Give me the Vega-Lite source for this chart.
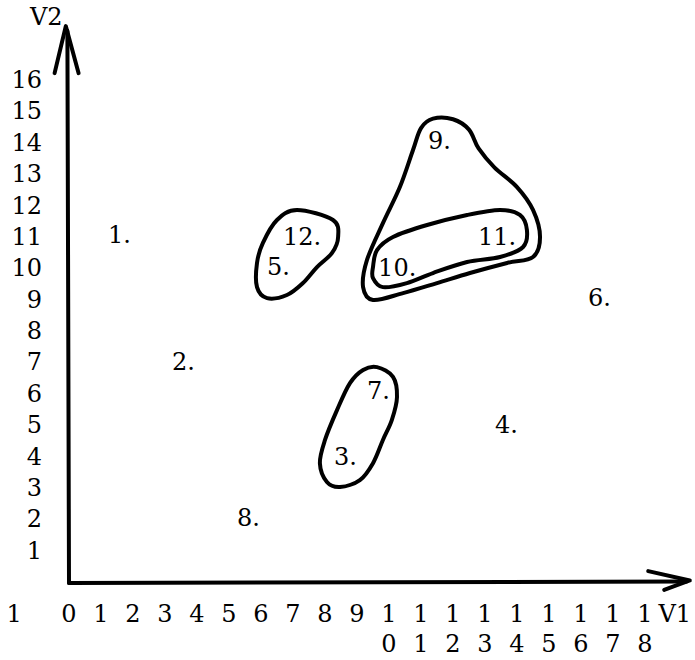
{
  "$schema": "https://vega.github.io/schema/vega-lite/v6.json",
  "width": 576,
  "height": 502,
  "autosize": "none",
  "padding": {"left": 69, "top": 81, "right": 50, "bottom": 77},
  "background": "white",
  "config": {
    "view": {"stroke": null},
    "text": {"font": "DejaVu Serif", "fontSize": 24, "color": "black"}
  },
  "datasets": {
    "shapes": [
      {"g": "A", "o": 1, "v1": 7.125, "v2": 11.89},
      {"g": "A", "o": 2, "v1": 8.25, "v2": 11.57},
      {"g": "A", "o": 3, "v1": 8.41, "v2": 11.03},
      {"g": "A", "o": 4, "v1": 8.22, "v2": 10.52},
      {"g": "A", "o": 5, "v1": 7.75, "v2": 10.07},
      {"g": "A", "o": 6, "v1": 7.31, "v2": 9.56},
      {"g": "A", "o": 7, "v1": 6.81, "v2": 9.18},
      {"g": "A", "o": 8, "v1": 6.19, "v2": 9.08},
      {"g": "A", "o": 9, "v1": 5.875, "v2": 9.43},
      {"g": "A", "o": 10, "v1": 5.875, "v2": 10.2},
      {"g": "A", "o": 11, "v1": 6.06, "v2": 10.84},
      {"g": "A", "o": 12, "v1": 6.5, "v2": 11.57},
      {"g": "B", "o": 1, "v1": 9.5, "v2": 10.07},
      {"g": "B", "o": 2, "v1": 9.625, "v2": 10.61},
      {"g": "B", "o": 3, "v1": 10.125, "v2": 11.03},
      {"g": "B", "o": 4, "v1": 11.19, "v2": 11.41},
      {"g": "B", "o": 5, "v1": 12.44, "v2": 11.73},
      {"g": "B", "o": 6, "v1": 13.47, "v2": 11.89},
      {"g": "B", "o": 7, "v1": 14.09, "v2": 11.73},
      {"g": "B", "o": 8, "v1": 14.31, "v2": 11.25},
      {"g": "B", "o": 9, "v1": 14.19, "v2": 10.71},
      {"g": "B", "o": 10, "v1": 13.47, "v2": 10.39},
      {"g": "B", "o": 11, "v1": 12.44, "v2": 10.23},
      {"g": "B", "o": 12, "v1": 11.375, "v2": 9.88},
      {"g": "B", "o": 13, "v1": 10.56, "v2": 9.56},
      {"g": "B", "o": 14, "v1": 9.81, "v2": 9.43},
      {"g": "B", "o": 15, "v1": 9.5, "v2": 9.72},
      {"g": "C", "o": 1, "v1": 11.375, "v2": 14.8},
      {"g": "C", "o": 2, "v1": 12.0, "v2": 14.78},
      {"g": "C", "o": 3, "v1": 12.5, "v2": 14.45},
      {"g": "C", "o": 4, "v1": 12.8, "v2": 13.85},
      {"g": "C", "o": 5, "v1": 13.3, "v2": 13.24},
      {"g": "C", "o": 6, "v1": 14.0, "v2": 12.62},
      {"g": "C", "o": 7, "v1": 14.5, "v2": 11.89},
      {"g": "C", "o": 8, "v1": 14.72, "v2": 11.03},
      {"g": "C", "o": 9, "v1": 14.5, "v2": 10.39},
      {"g": "C", "o": 10, "v1": 13.69, "v2": 10.2},
      {"g": "C", "o": 11, "v1": 12.53, "v2": 9.88},
      {"g": "C", "o": 12, "v1": 11.5, "v2": 9.56},
      {"g": "C", "o": 13, "v1": 10.44, "v2": 9.24},
      {"g": "C", "o": 14, "v1": 9.5, "v2": 9.02},
      {"g": "C", "o": 15, "v1": 9.19, "v2": 9.43},
      {"g": "C", "o": 16, "v1": 9.31, "v2": 10.29},
      {"g": "C", "o": 17, "v1": 9.81, "v2": 11.47},
      {"g": "C", "o": 18, "v1": 10.34, "v2": 12.62},
      {"g": "C", "o": 19, "v1": 10.75, "v2": 13.8},
      {"g": "C", "o": 20, "v1": 11.0, "v2": 14.5},
      {"g": "D", "o": 1, "v1": 9.625, "v2": 6.88},
      {"g": "D", "o": 2, "v1": 10.125, "v2": 6.57},
      {"g": "D", "o": 3, "v1": 10.25, "v2": 5.93},
      {"g": "D", "o": 4, "v1": 10.09, "v2": 5.2},
      {"g": "D", "o": 5, "v1": 9.81, "v2": 4.56},
      {"g": "D", "o": 6, "v1": 9.5, "v2": 3.82},
      {"g": "D", "o": 7, "v1": 9.09, "v2": 3.28},
      {"g": "D", "o": 8, "v1": 8.47, "v2": 3.06},
      {"g": "D", "o": 9, "v1": 8.06, "v2": 3.22},
      {"g": "D", "o": 10, "v1": 7.84, "v2": 3.82},
      {"g": "D", "o": 11, "v1": 8.0, "v2": 4.56},
      {"g": "D", "o": 12, "v1": 8.375, "v2": 5.51},
      {"g": "D", "o": 13, "v1": 8.78, "v2": 6.37},
      {"g": "D", "o": 14, "v1": 9.19, "v2": 6.79}
    ],
    "axislines": [
      {"g": "ys", "o": 1, "v1": 0, "v2": 0},
      {"g": "ys", "o": 2, "v1": -0.05, "v2": 17.6},
      {"g": "yh", "o": 1, "v1": -0.45, "v2": 16.25},
      {"g": "yh", "o": 2, "v1": -0.1, "v2": 17.75},
      {"g": "yh", "o": 3, "v1": 0.3, "v2": 16.25},
      {"g": "xs", "o": 1, "v1": 0, "v2": 0},
      {"g": "xs", "o": 2, "v1": 19.3, "v2": 0.05},
      {"g": "xh", "o": 1, "v1": 18.1, "v2": 0.38},
      {"g": "xh", "o": 2, "v1": 19.4, "v2": 0.08},
      {"g": "xh", "o": 3, "v1": 18.6, "v2": -0.22}
    ],
    "labels": [
      {"name": "1.", "v1": 1.22, "v2": 11.05},
      {"name": "2.", "v1": 3.22, "v2": 7.0},
      {"name": "3.", "v1": 8.28, "v2": 4.0},
      {"name": "4.", "v1": 13.31, "v2": 5.0},
      {"name": "5.", "v1": 6.19, "v2": 10.05},
      {"name": "6.", "v1": 16.22, "v2": 9.05},
      {"name": "7.", "v1": 9.31, "v2": 6.1},
      {"name": "8.", "v1": 5.25, "v2": 2.05},
      {"name": "9.", "v1": 11.22, "v2": 14.05},
      {"name": "10.", "v1": 9.66, "v2": 10.0},
      {"name": "11.", "v1": 12.78, "v2": 11.0},
      {"name": "12.", "v1": 6.69, "v2": 11.0}
    ],
    "xticks": [
      {"t": "0", "v1": 0, "v2": -1.02},
      {"t": "1", "v1": 1, "v2": -1.02},
      {"t": "2", "v1": 2, "v2": -1.02},
      {"t": "3", "v1": 3, "v2": -1.02},
      {"t": "4", "v1": 4, "v2": -1.02},
      {"t": "5", "v1": 5, "v2": -1.02},
      {"t": "6", "v1": 6, "v2": -1.02},
      {"t": "7", "v1": 7, "v2": -1.02},
      {"t": "8", "v1": 8, "v2": -1.02},
      {"t": "9", "v1": 9, "v2": -1.02},
      {"t": "1", "v1": 10, "v2": -1.02},
      {"t": "1", "v1": 11, "v2": -1.02},
      {"t": "1", "v1": 12, "v2": -1.02},
      {"t": "1", "v1": 13, "v2": -1.02},
      {"t": "1", "v1": 14, "v2": -1.02},
      {"t": "1", "v1": 15, "v2": -1.02},
      {"t": "1", "v1": 16, "v2": -1.02},
      {"t": "1", "v1": 17, "v2": -1.02},
      {"t": "1", "v1": 18, "v2": -1.02},
      {"t": "0", "v1": 10, "v2": -1.98},
      {"t": "1", "v1": 11, "v2": -1.98},
      {"t": "2", "v1": 12, "v2": -1.98},
      {"t": "3", "v1": 13, "v2": -1.98},
      {"t": "4", "v1": 14, "v2": -1.98},
      {"t": "5", "v1": 15, "v2": -1.98},
      {"t": "6", "v1": 16, "v2": -1.98},
      {"t": "7", "v1": 17, "v2": -1.98},
      {"t": "8", "v1": 18, "v2": -1.98}
    ],
    "yticks": [
      {"t": "1", "v1": -0.84, "v2": 1},
      {"t": "2", "v1": -0.84, "v2": 2},
      {"t": "3", "v1": -0.84, "v2": 3},
      {"t": "4", "v1": -0.84, "v2": 4},
      {"t": "5", "v1": -0.84, "v2": 5},
      {"t": "6", "v1": -0.84, "v2": 6},
      {"t": "7", "v1": -0.84, "v2": 7},
      {"t": "8", "v1": -0.84, "v2": 8},
      {"t": "9", "v1": -0.84, "v2": 9},
      {"t": "10", "v1": -0.84, "v2": 10},
      {"t": "11", "v1": -0.84, "v2": 11},
      {"t": "12", "v1": -0.84, "v2": 12},
      {"t": "13", "v1": -0.84, "v2": 13},
      {"t": "14", "v1": -0.84, "v2": 14},
      {"t": "15", "v1": -0.84, "v2": 15},
      {"t": "16", "v1": -0.84, "v2": 16}
    ],
    "axistext": [
      {"name": "V2", "v1": -1.22, "v2": 18.0},
      {"name": "V1", "v1": 18.42, "v2": -1.02},
      {"name": "1", "v1": -1.95, "v2": -1.02}
    ]
  },
  "layer": [
    {
      "data": {"name": "shapes"},
      "mark": {"type": "line", "interpolate": "cardinal-closed", "strokeWidth": 4, "color": "black", "strokeCap": "round", "strokeJoin": "round"},
      "encoding": {
        "x": {"field": "v1", "type": "quantitative", "scale": {"domain": [0, 18], "nice": false, "zero": false}, "axis": null},
        "y": {"field": "v2", "type": "quantitative", "scale": {"domain": [0, 16], "nice": false, "zero": false}, "axis": null},
        "detail": {"field": "g"},
        "order": {"field": "o"}
      }
    },
    {
      "data": {"name": "axislines"},
      "mark": {"type": "line", "strokeWidth": 4, "color": "black", "strokeCap": "round", "strokeJoin": "round"},
      "encoding": {
        "x": {"field": "v1", "type": "quantitative"},
        "y": {"field": "v2", "type": "quantitative"},
        "detail": {"field": "g"},
        "order": {"field": "o"}
      }
    },
    {
      "data": {"name": "labels"},
      "mark": {"type": "text", "align": "left", "baseline": "middle"},
      "encoding": {
        "x": {"field": "v1", "type": "quantitative"},
        "y": {"field": "v2", "type": "quantitative"},
        "text": {"field": "name"}
      }
    },
    {
      "data": {"name": "xticks"},
      "mark": {"type": "text", "align": "center", "baseline": "middle"},
      "encoding": {
        "x": {"field": "v1", "type": "quantitative"},
        "y": {"field": "v2", "type": "quantitative"},
        "text": {"field": "t"}
      }
    },
    {
      "data": {"name": "yticks"},
      "mark": {"type": "text", "align": "right", "baseline": "middle"},
      "encoding": {
        "x": {"field": "v1", "type": "quantitative"},
        "y": {"field": "v2", "type": "quantitative"},
        "text": {"field": "t"}
      }
    },
    {
      "data": {"name": "axistext"},
      "mark": {"type": "text", "align": "left", "baseline": "middle"},
      "encoding": {
        "x": {"field": "v1", "type": "quantitative"},
        "y": {"field": "v2", "type": "quantitative"},
        "text": {"field": "name"}
      }
    }
  ]
}
